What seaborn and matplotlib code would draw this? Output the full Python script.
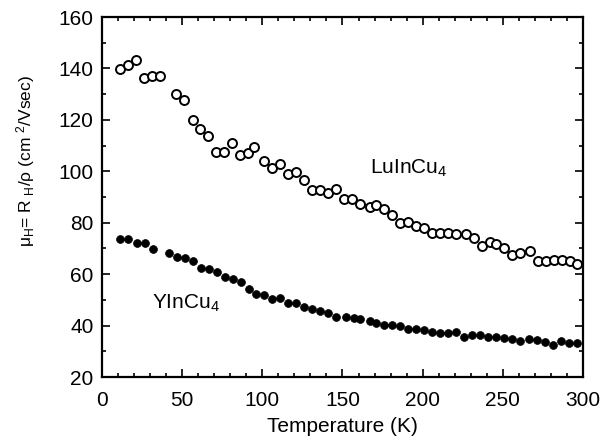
import numpy as np
import pandas as pd
import matplotlib
matplotlib.use('Agg')
import matplotlib.pyplot as plt
from matplotlib.ticker import MultipleLocator
import seaborn as sns

# ====================== DATA ======================
lu_temp = [11, 16, 21, 26, 31, 36, 46, 51, 57, 61, 66, 71, 76, 81, 86, 91, 95,
           101, 106, 111, 116, 121, 126, 131, 136, 141, 146, 151, 156, 161, 167,
           171, 176, 181, 186, 191, 196, 201, 206, 211, 216, 221, 227, 232, 237,
           242, 246, 251, 256, 261, 267, 272, 277, 282, 287, 292, 296]
lu_mu = [139.8, 141.3, 143.2, 136.4, 137.0, 137.0, 130.0, 127.7, 120.0, 116.4,
         113.9, 107.4, 107.6, 111.1, 106.2, 107.2, 109.6, 104.1, 101.4, 102.8,
         98.8, 99.7, 96.6, 92.6, 92.6, 91.4, 93.1, 89.4, 89.4, 87.1, 86.2, 86.9,
         85.2, 83.0, 79.8, 80.3, 78.7, 77.8, 76.1, 76.1, 76.1, 75.6, 75.6, 74.2,
         71.1, 72.6, 71.7, 70.0, 67.4, 68.1, 69.0, 65.2, 65.2, 65.5, 65.5, 65.2,
         63.8]

y_temp = [11, 16, 22, 27, 32, 42, 47, 52, 57, 62, 67, 72, 77, 82, 87, 92, 96,
          101, 106, 111, 116, 121, 126, 131, 136, 141, 146, 152, 157, 161, 167,
          171, 176, 181, 186, 191, 196, 201, 206, 211, 216, 221, 226, 231, 236,
          241, 246, 251, 256, 261, 266, 271, 276, 281, 286, 291, 296]
y_mu = [73.7, 73.7, 72.2, 72.0, 69.6, 68.3, 66.8, 66.1, 65.2, 62.5, 61.9, 60.9,
        58.8, 58.1, 57.1, 54.1, 52.3, 51.9, 50.2, 50.8, 48.6, 48.9, 47.1, 46.3,
        45.6, 45.0, 43.2, 43.4, 42.8, 42.4, 41.8, 41.1, 40.2, 40.2, 39.8, 38.5,
        38.5, 38.3, 37.6, 37.2, 37.2, 37.6, 35.6, 36.3, 36.3, 35.6, 35.6, 35.3,
        34.7, 34.0, 34.7, 34.4, 33.7, 32.4, 34.0, 33.1, 33.1]

x_ticks = [0, 50, 100, 150, 200, 250, 300]
y_ticks = [20, 40, 60, 80, 100, 120, 140, 160]

# ====================== STYLE ======================
sns.set_style("ticks", {'axes.edgecolor': 'black', 'text.color': 'black',
                        'axes.labelcolor': 'black', 'xtick.color': 'black',
                        'ytick.color': 'black'})
plt.rcParams['font.family'] = ['Liberation Sans', 'DejaVu Sans']
plt.rcParams['mathtext.fontset'] = 'custom'
plt.rcParams['mathtext.rm'] = 'Liberation Sans'
plt.rcParams['mathtext.it'] = 'Liberation Sans'

FS = 15

fig = plt.figure(figsize=(6.07, 4.42), dpi=100)
ax = fig.add_axes([0.168, 0.147, 0.7925, 0.8145])

lu = pd.DataFrame({'T': lu_temp, 'mu': lu_mu})
yi = pd.DataFrame({'T': y_temp, 'mu': y_mu})

sns.scatterplot(data=lu, x='T', y='mu', ax=ax, marker='o', s=42,
                facecolor='white', edgecolor='black', linewidth=1.4, zorder=3)
sns.scatterplot(data=yi, x='T', y='mu', ax=ax, marker='o', s=32,
                color='black', edgecolor='black', linewidth=0.5, zorder=3)

ax.set_xlim(0, 300)
ax.set_ylim(20, 160)
ax.set_xticks(x_ticks)
ax.set_yticks(y_ticks)
ax.xaxis.set_minor_locator(MultipleLocator(10))
ax.yaxis.set_minor_locator(MultipleLocator(10))
ax.tick_params(which='both', direction='in', top=True, right=True,
               width=1.2, labelsize=FS, pad=6)
ax.tick_params(axis='x', which='both', pad=10)
ax.tick_params(which='major', length=6)
ax.tick_params(which='minor', length=3)
for sp in ax.spines.values():
    sp.set_linewidth(1.6)

ax.set_xlabel('Temperature (K)', fontsize=FS, labelpad=5)
ax.set_ylabel(r'$\mathrm{\mu_{H}}$= R $\mathrm{_{H}}$/$\mathrm{\rho}$ (cm $\mathrm{^{2}}$/Vsec)',
              fontsize=12.5)
ax.yaxis.set_label_coords(-0.135, 0.6)

ax.text(167, 101, r'LuInCu$_4$', fontsize=FS, ha='left', va='center')
ax.text(31, 48.5, r'YInCu$_4$', fontsize=FS, ha='left', va='center')

fig.savefig('out.png', dpi=100)
plt.close()
